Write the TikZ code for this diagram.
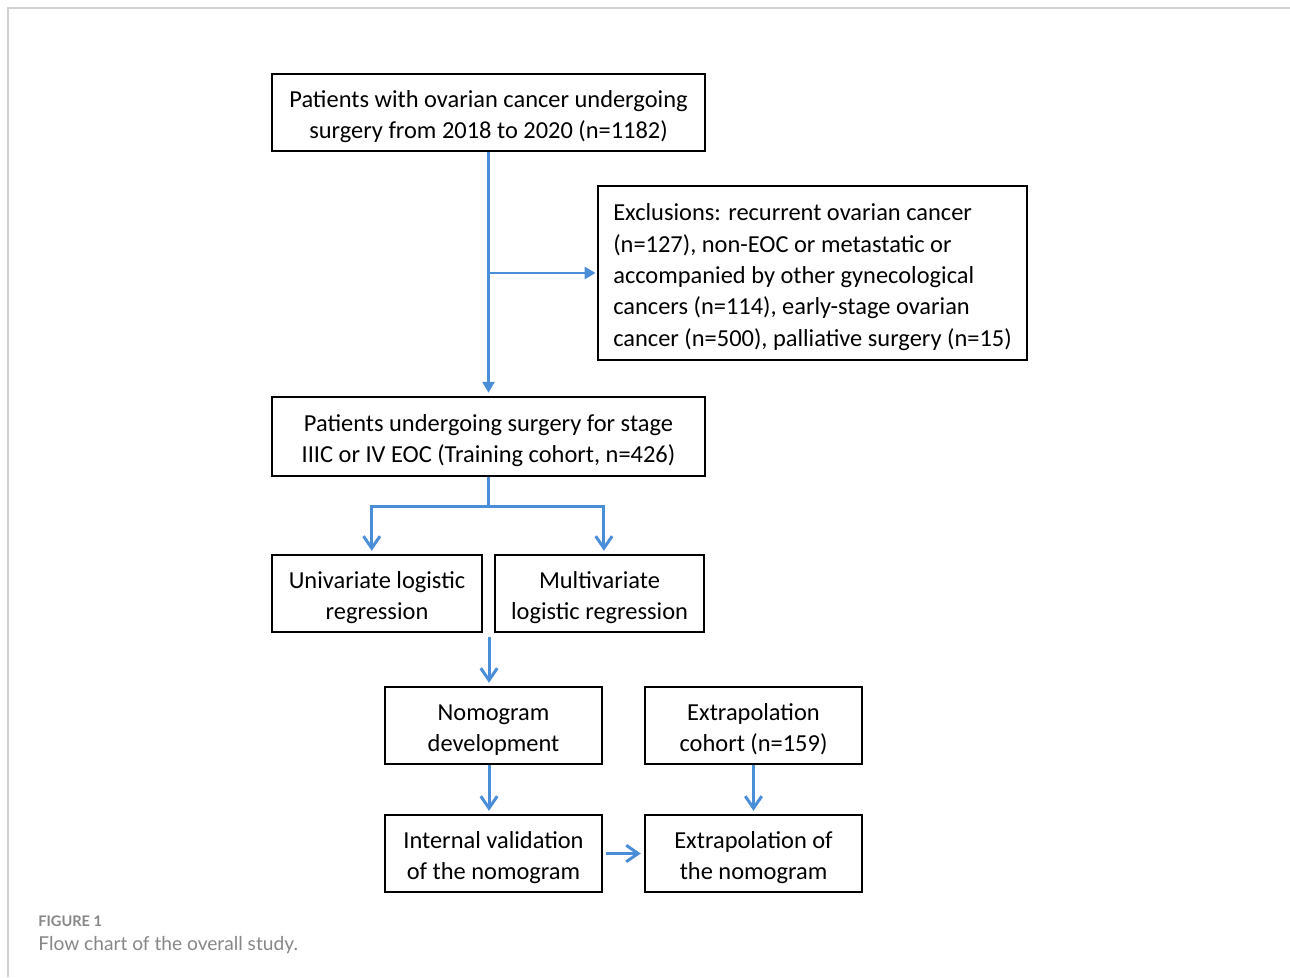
\documentclass[tikz,border=0pt]{standalone}
\usepackage{fontspec}
\setmainfont{Carlito}
\newfontfamily\capfont{Lato}
\usepackage{xcolor}
\usetikzlibrary{arrows.meta, positioning, calc}

\definecolor{flowblue}{RGB}{74,141,216}
\definecolor{capgray}{RGB}{135,135,135}

\begin{document}
\begin{tikzpicture}[x=0.02cm, y=-0.02cm,
		box/.style = {draw, line width=0.8pt, align=center, inner sep=0pt, font=\fontsize{13.9}{17.8}\selectfont,
			text height=32pt},
		flow/.style = {flowblue, line width=1.7pt},
		solidtip/.style = {-{Triangle[length=2.2mm, width=2.4mm]}},
		opentip/.style = {-{Straight Barb[length=2.4mm, width=3.3mm, line width=1.7pt]}}]
		\useasboundingbox (0,0) rectangle (1290,977);
		
		\draw [gray!35, line width=0.8pt] (8,977) -- (8,8) -- (1290,8);
		
		\node [box, minimum width=8.66cm, minimum height=1.54cm] (start) at (488.5,112.5)
			{Patients with ovarian cancer undergoing\\surgery from 2018 to 2020 (n=1182)};
		\node [box, align=left, text height=85.5pt, minimum width=8.58cm, minimum height=3.48cm] (excl) at (812.5,273)
			{Exclusions: recurrent ovarian cancer\\(n=127), non-EOC or metastatic or\\accompanied by other gynecological\\cancers (n=114), early-stage ovarian\\cancer (n=500), palliative surgery (n=15)};
		\node [box, minimum width=8.66cm, minimum height=1.58cm] (train) at (488.5,436.5)
			{Patients undergoing surgery for stage\\IIIC or IV EOC (Training cohort, n=426)};
		\node [box, minimum width=4.2cm, minimum height=1.54cm] (uni) at (377,593.5)
			{Univariate logistic\\regression};
		\node [box, minimum width=4.18cm, minimum height=1.54cm] (multi) at (599.5,593.5)
			{Multivariate\\logistic regression};
		\node [box, minimum width=4.34cm, minimum height=1.54cm] (nomo) at (493.5,725.5)
			{Nomogram\\development};
		\node [box, minimum width=4.34cm, minimum height=1.54cm] (extcohort) at (753.5,725.5)
			{Extrapolation\\cohort (n=159)};
		\node [box, minimum width=4.34cm, minimum height=1.54cm] (intval) at (493.5,853.5)
			{Internal validation\\of the nomogram};
		\node [box, minimum width=4.34cm, minimum height=1.54cm] (extnomo) at (753.5,853.5)
			{Extrapolation of\\the nomogram};
		
		\coordinate (split) at (start.south |- excl.west);
		\coordinate (fork) at ($(train.south)+(0,30)$);
		\coordinate (gap) at (489,637);
		
		\begin{scope}[flow, solidtip]
		\draw (start.south) -- ([yshift=2pt]train.north);
		\draw (split) -- ([xshift=-1pt]excl.west);
		\end{scope}
		
		\draw [flow] (train.south) -- (fork);
		\begin{scope}[flow, opentip, shorten >=2pt]
		\draw (fork) -| ([xshift=-3pt]uni.north);
		\draw (fork) -| ([xshift=2.5pt]multi.north);
		\draw (gap) -- (gap |- nomo.north);
		\draw (nomo.south -| gap) -- (intval.north -| gap);
		\draw (extcohort.south) -- (extnomo.north);
		\draw ([xshift=2pt]intval.east) -- (extnomo.west);
		\end{scope}
		
		\node [anchor=base west, text=capgray, font=\capfont\bfseries\fontsize{8.3}{10}\selectfont, inner sep=0pt] (figlabel) at (38,926) {FIGURE 1};
		\node [anchor=base west, text=capgray, font=\capfont\fontsize{10.9}{12}\selectfont, inner sep=0pt] (figcaption) at (38,950) {Flow chart of the overall study.};
	\end{tikzpicture}
\end{document}
